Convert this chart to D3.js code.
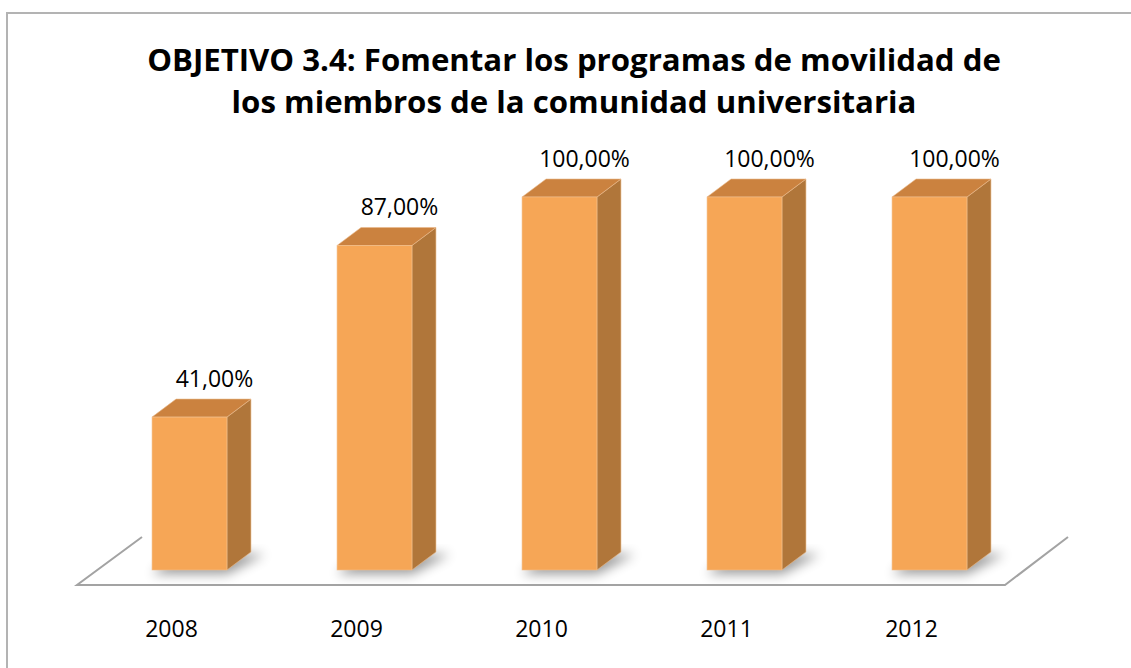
<!DOCTYPE html>
<html>
<head>
<meta charset="utf-8">
<script src="https://cdn.jsdelivr.net/npm/d3@7"></script>
<style>
  body { margin: 0; background: #fff; }
  svg { display: block; }
  text { font-family: "Open Sans", Lato, sans-serif; fill: #000; }
</style>
</head>
<body>
<svg id="stage" width="1131" height="668"></svg>
<script>
// chart data
const years = ["2008", "2009", "2010", "2011", "2012"];
const values = [41, 87, 100, 100, 100];
const valueLabels = ["41,00%", "87,00%", "100,00%", "100,00%", "100,00%"];
const titleLines = [
  "OBJETIVO 3.4: Fomentar los programas de movilidad de",
  "los miembros de la comunidad universitaria",
];

const svg = d3.select("#stage");
const depthX = 24, depthY = 18;
const floorY = 570;

const x = d3.scaleBand().domain(years).range([97, 1022]).paddingInner(0.595).paddingOuter(0.2975);
const y = d3.scaleLinear().domain([0, 100]).range([floorY, 197]);

// frame (right/bottom edges fall outside the picture)
svg.append("rect")
  .attr("x", 7).attr("y", 13)
  .attr("width", 1200).attr("height", 800)
  .attr("fill", "none").attr("stroke", "#b3b3b3").attr("stroke-width", 2);

// title
svg.selectAll("text.title")
  .data(titleLines)
  .enter()
  .append("text")
  .attr("class", "title")
  .attr("x", 574)
  .attr("y", (_, i) => 71 + i * 42)
  .attr("text-anchor", "middle")
  .attr("font-weight", "bold")
  .attr("font-size", 31.2)
  .text((d) => d);

// floor outline
const floor = d3.line()([[142, 537], [77, 585], [1005, 585], [1068, 537]]);
svg.append("path")
  .attr("d", floor)
  .attr("fill", "none")
  .attr("stroke", "#a3a3a3")
  .attr("stroke-width", 2);

const defs = svg.append("defs");
defs.append("filter").attr("id", "blur")
  .attr("x", "-50%").attr("y", "-50%").attr("width", "200%").attr("height", "200%")
  .append("feGaussianBlur").attr("stdDeviation", 6);

const data = years.map((year, i) => ({ year, value: values[i], label: valueLabels[i] }));

// soft shadows under the bars
svg.append("g").selectAll("path")
  .data(data)
  .enter()
  .append("path")
  .attr("d", (d) => {
    const x0 = x(d.year), x1 = x0 + x.bandwidth();
    return d3.line()([[x0, floorY + 4], [x1, floorY + 4], [x1 + depthX + 14, floorY - depthY + 2], [x0 + depthX, floorY - depthY + 2]]);
  })
  .attr("fill", "#000")
  .attr("opacity", 0.4)
  .attr("filter", "url(#blur)");

const bars = svg.append("g").selectAll("g")
  .data(data)
  .enter()
  .append("g");

// side face
bars.append("path")
  .attr("d", (d) => {
    const x1 = x(d.year) + x.bandwidth(), yt = y(d.value);
    return d3.line()([[x1, yt], [x1 + depthX, yt - depthY], [x1 + depthX, floorY - depthY], [x1, floorY]]) + "Z";
  })
  .attr("fill", "#b0763a")
  .attr("stroke", "#e9b98a").attr("stroke-width", 0.6);

// top face
bars.append("path")
  .attr("d", (d) => {
    const x0 = x(d.year), x1 = x0 + x.bandwidth(), yt = y(d.value);
    return d3.line()([[x0, yt], [x1, yt], [x1 + depthX, yt - depthY], [x0 + depthX, yt - depthY]]) + "Z";
  })
  .attr("fill", "#cb823f")
  .attr("stroke", "#e9b98a").attr("stroke-width", 0.6);

// front face
bars.append("rect")
  .attr("x", (d) => x(d.year))
  .attr("y", (d) => y(d.value))
  .attr("width", x.bandwidth())
  .attr("height", (d) => floorY - y(d.value))
  .attr("fill", "#f6a656")
  .attr("stroke", "#f3c08e").attr("stroke-width", 0.6);

// value labels
bars.append("text")
  .attr("x", (d) => x(d.year) + x.bandwidth() / 2 + 25)
  .attr("y", (d) => y(d.value) - 30)
  .attr("text-anchor", "middle")
  .attr("font-size", 23)
  .text((d) => d.label);

// category labels
svg.append("g").selectAll("text")
  .data(years)
  .enter()
  .append("text")
  .attr("x", (d) => x(d) + x.bandwidth() / 2 - 18)
  .attr("y", 637)
  .attr("text-anchor", "middle")
  .attr("font-size", 23)
  .text((d) => d);
</script>
</body>
</html>
